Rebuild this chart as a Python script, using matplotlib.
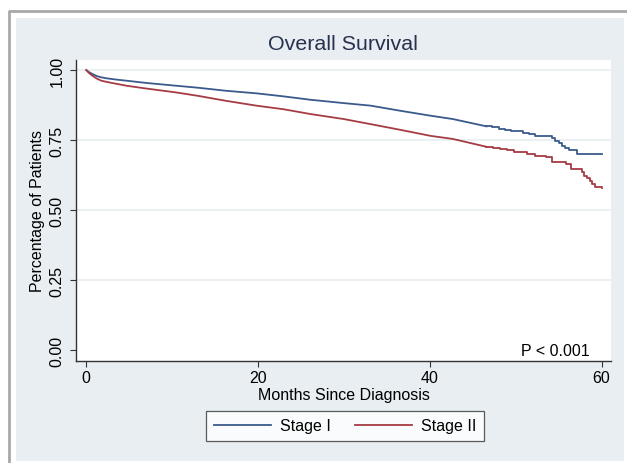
import matplotlib
matplotlib.use("Agg")
import matplotlib.pyplot as plt
from matplotlib.patches import Rectangle
from matplotlib.lines import Line2D

plt.rcParams['font.family'] = ['Liberation Sans', 'DejaVu Sans']

# Kaplan-Meier estimates (months, survival)
# early part has so many events it looks smooth, the tail shows visible steps
months_early = [0, 0.3, 0.7, 1.2, 1.75, 2.5, 3.5, 4.7, 7, 10.5, 13, 16.3, 19.8, 23,
                26.1, 30, 33.1, 36.5, 40.1, 42.7, 46.6]
stage1_early = [1.0, 0.993, 0.986, 0.979, 0.974, 0.970, 0.966, 0.962, 0.954, 0.944,
                0.937, 0.926, 0.917, 0.906, 0.894, 0.882, 0.873, 0.855, 0.837, 0.825,
                0.799]
stage2_early = [1.0, 0.990, 0.980, 0.970, 0.962, 0.957, 0.951, 0.944, 0.934, 0.920,
                0.908, 0.890, 0.873, 0.860, 0.843, 0.825, 0.807, 0.787, 0.765, 0.754,
                0.726]

stage1_tail_t = [46.6, 47.3, 48.0, 48.8, 49.5, 50.2, 50.9, 51.5, 52.3, 54.2, 54.6,
                 55.0, 55.4, 55.8, 56.2, 57.1, 60.0]
stage1_tail_s = [0.799, 0.795, 0.791, 0.787, 0.784, 0.781, 0.777, 0.773, 0.765, 0.757,
                 0.748, 0.740, 0.730, 0.722, 0.715, 0.700, 0.700]

stage2_tail_t = [46.6, 47.4, 48.2, 49.0, 49.8, 50.5, 51.3, 52.3, 53.5, 54.2, 55.9,
                 56.5, 57.7, 58.0, 58.3, 58.6, 58.9, 59.2, 60.1]
stage2_tail_s = [0.726, 0.722, 0.717, 0.713, 0.709, 0.706, 0.700, 0.692, 0.689, 0.670,
                 0.665, 0.646, 0.635, 0.623, 0.614, 0.605, 0.593, 0.581, 0.580]

xticks = [0, 20, 40, 60]
yticks = [0.0, 0.25, 0.5, 0.75, 1.0]

blue = '#3b5a8c'
red = '#a53c44'

W, H = 627, 464
fig = plt.figure(figsize=(W / 100, H / 100), dpi=100)
fig.patch.set_facecolor('white')

# stata style background panel and outer frame
fig.patches.append(Rectangle((16 / W, 1 - 462 / H), (624 - 16) / W, (462 - 19) / H,
                             transform=fig.transFigure, facecolor='#e8eef2',
                             edgecolor='none', zorder=-5))
fig.lines.append(Line2D([9 / W, 9 / W, 1], [0, 1 - 12 / H, 1 - 12 / H],
                        transform=fig.transFigure, color='#a8a8a8', lw=2, zorder=-5))

ax = fig.add_axes([76 / W, 1 - 362 / H, (611 - 76) / W, (362 - 61) / H])
ax.set_facecolor('white')

for y in yticks[1:]:
    ax.axhline(y, color='#e8eef1', lw=1.2, zorder=1)

ax.plot(months_early, stage1_early, color=blue, lw=1.3, label='Stage I', zorder=3)
ax.plot(stage1_tail_t, stage1_tail_s, drawstyle='steps-post', color=blue, lw=1.3, zorder=3)
ax.plot(months_early, stage2_early, color=red, lw=1.3, label='Stage II', zorder=3)
ax.plot(stage2_tail_t, stage2_tail_s, drawstyle='steps-post', color=red, lw=1.3, zorder=3)

ax.set_xlim(-1.2, 61.1)
ax.set_ylim(-0.039, 1.036)
ax.set_xticks(xticks)
ax.set_yticks(yticks)
ax.set_yticklabels(['%.2f' % v for v in yticks], rotation=90, va='center')
ax.tick_params(axis='both', direction='out', length=4.3, width=0.8,
               color='#333333', labelsize=11.5, labelcolor='black')
ax.tick_params(axis='y', pad=4)
ax.tick_params(axis='x', pad=2.5)

for s in ['top', 'right']:
    ax.spines[s].set_visible(False)
for s in ['left', 'bottom']:
    ax.spines[s].set_color('#333333')
    ax.spines[s].set_linewidth(1.0)

ax.set_xlabel('Months Since Diagnosis', fontsize=11.5, labelpad=1)
ax.set_ylabel('Percentage of Patients', fontsize=11.5, labelpad=3)

ax.text(58.6, 0.0, 'P < 0.001', ha='right', va='center', fontsize=11.5)

fig.text(343 / W, 1 - 45 / H, 'Overall Survival', ha='center', va='center',
         fontsize=15.4, color='#27324f')

leg = fig.legend(loc='center', bbox_to_anchor=(345 / W, 1 - 427 / H), ncol=2,
                 fontsize=11.5, frameon=True, fancybox=False, edgecolor='#333333',
                 handlelength=3.6, handletextpad=0.55, columnspacing=1.5,
                 borderpad=0.45)
leg.get_frame().set_linewidth(0.9)

fig.savefig('out.png', dpi=100)
